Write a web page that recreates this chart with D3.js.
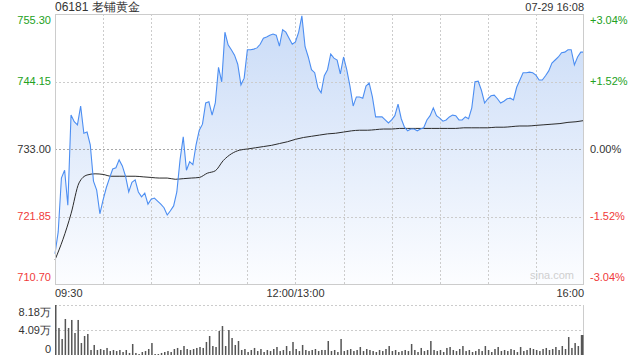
<!DOCTYPE html>
<html>
<head>
<meta charset="utf-8">
<script src="https://cdn.jsdelivr.net/npm/d3@7"></script>
<style>
  body { margin: 0; background: #fff; }
  text { font-family: "Liberation Sans", Arial, sans-serif; }
</style>
</head>
<body>
<div id="chart"></div>
<script>
// --- data ---
const title = "06181 老铺黄金";
const stamp = "07-29 16:08";
const prevClose = 733.00;

// price every 2 minutes of the trading session (330 min, lunch removed)
const priceStep = 2;
const prices = [
  715.7, 719.3, 728.2, 729.5, 723.7, 738.6, 737.5, 737.0, 740.1, 735.6,
  735.8, 733.7, 727.7, 726.2, 722.3, 724.6, 726.6, 728.2, 729.7, 729.9,
  731.2, 730.2, 728.5, 725.9, 727.5, 727.9, 725.9, 725.1, 725.7, 723.9,
  724.7, 724.9, 724.4, 723.9, 723.3, 722.1, 722.8, 723.6, 725.9, 731.2,
  735.0, 729.5, 730.9, 730.4, 733.7, 736.1, 737.1, 740.6, 740.8, 738.6,
  740.6, 746.5, 744.1, 752.3, 750.2, 749.4, 748.5, 747.0, 743.6, 744.7,
  749.4, 749.4, 749.5, 749.7, 750.3, 751.3, 751.5, 751.8, 752.0, 751.8,
  750.0, 752.7, 752.3, 751.3, 750.3, 750.7, 752.3, 755.0, 749.9, 748.2,
  746.1, 745.6, 743.1, 742.3, 745.1, 746.1, 748.7, 748.0, 747.7, 745.4,
  748.2, 746.1, 743.4, 740.1, 741.6, 741.6, 741.4, 743.4, 743.9, 741.6,
  738.3, 738.3, 738.3, 737.8, 737.3, 737.8, 738.5, 740.4, 738.0, 736.6,
  736.0, 736.3, 736.3, 736.0, 736.3, 736.5, 737.8, 738.5, 739.8, 738.5,
  738.1, 737.6, 737.8, 738.3, 738.6, 738.5, 737.8, 737.8, 738.3, 738.0,
  739.8, 744.1, 744.2, 742.7, 740.6, 741.3, 741.8, 741.9, 741.3, 740.6,
  740.9, 741.3, 741.4, 741.1, 743.2, 744.4, 745.6, 745.6, 745.7, 745.6,
  745.2, 744.4, 744.4, 745.1, 745.9, 747.2, 747.7, 748.2, 748.9, 749.0,
  749.4, 749.4, 746.9, 748.2, 749.0, 749.0
];

// average price every 5 minutes
const avgStep = 5;
const avgPrices = [
  714.7, 718.1, 722.3, 727.4, 728.7, 728.9, 728.8, 728.5, 728.5, 728.5,
  728.5, 728.4, 728.3, 728.2, 728.2, 728.0, 728.1, 728.2, 728.3, 729.0,
  729.4, 731.1, 732.2, 732.8, 733.0, 733.2, 733.4, 733.6, 733.9, 734.2,
  734.6, 734.9, 735.1, 735.3, 735.5, 735.6, 735.8, 736.0, 736.1, 736.1,
  736.2, 736.3, 736.3, 736.4, 736.4, 736.4, 736.4, 736.4, 736.4, 736.4,
  736.4, 736.5, 736.5, 736.5, 736.5, 736.6, 736.6, 736.7, 736.8, 736.8,
  736.9, 737.0, 737.1, 737.2, 737.4, 737.5, 737.7
];

// volume (万 shares) every 2 minutes
const volStep = 2;
const volumes = [
  8.18, 4.42, 2.62, 5.89, 4.42, 5.73, 3.60, 5.73, 1.96, 3.11,
  3.44, 0.82, 1.64, 0.82, 0.98, 0.82, 1.15, 0.65, 0.82, 0.65,
  0.82, 0.49, 0.82, 0.33, 1.80, 0.33, 0.16, 0.49, 0.65, 0.98,
  1.96, 0.16, 0.16, 0.33, 0.49, 0.65, 0.49, 0.98, 1.15, 0.82,
  1.47, 0.98, 0.82, 0.98, 1.15, 1.31, 1.15, 2.13, 3.11, 1.47,
  1.31, 3.93, 4.74, 1.47, 4.09, 2.78, 1.64, 2.29, 0.82, 0.98,
  0.49, 0.82, 1.15, 0.65, 0.98, 0.49, 0.82, 0.65, 0.98, 1.31,
  0.65, 0.82, 1.47, 0.65, 2.13, 0.98, 0.65, 1.64, 0.82, 0.65,
  0.82, 0.98, 0.65, 0.82, 0.82, 2.29, 0.65, 0.82, 0.49, 2.62,
  0.65, 0.82, 0.98, 0.65, 0.82, 1.31, 0.65, 0.98, 0.82, 0.65,
  0.49, 0.82, 0.65, 0.98, 1.47, 0.65, 0.82, 0.49, 0.65, 0.82,
  0.65, 1.80, 0.82, 0.49, 1.15, 0.65, 0.82, 2.29, 0.82, 0.65,
  0.82, 0.49, 1.15, 1.31, 0.82, 0.65, 0.98, 1.47, 0.65, 0.82,
  0.49, 0.65, 0.98, 0.65, 1.47, 0.82, 0.49, 0.98, 1.31, 0.65,
  0.82, 0.65, 0.98, 0.82, 0.49, 1.31, 0.65, 0.82, 1.15, 0.98,
  0.82, 0.65, 0.98, 1.15, 0.82, 0.98, 1.31, 0.82, 1.47, 0.98,
  2.94, 1.15, 1.96, 1.47, 3.27, 3.27
];

const priceTicks = [755.30, 744.15, 733.00, 721.85, 710.70];
const pctLabels = ["+3.04%", "+1.52%", "0.00%", "-1.52%", "-3.04%"];
const volTicks = [8.18, 4.09, 0];
const volLabels = ["8.18万", "4.09万", "0"];
const timeTicks = [0, 150, 330];
const timeLabels = ["09:30", "12:00/13:00", "16:00"];

// --- layout ---
const W = 640, H = 360;
const pL = 55, pR = 584, pT = 14, pB = 284;
const vTop = 305, vBot = 355;
const up = "#22a122", down = "#f03a3a", ink = "#333";

const svg = d3.select("#chart").append("svg")
  .attr("width", W).attr("height", H);

const x = d3.scaleLinear().domain([0, 330]).range([pL, pR]);
const y = d3.scaleLinear().domain([710.70, 755.30]).range([pB, pT]);
const yv = d3.scaleLinear().domain([0, 8.18]).range([vBot, vTop]);

// gradient under the price line
const grad = svg.append("defs").append("linearGradient")
  .attr("id", "fill").attr("gradientUnits", "userSpaceOnUse")
  .attr("x1", 0).attr("y1", pT).attr("x2", 0).attr("y2", pB);
grad.append("stop").attr("offset", 0).attr("stop-color", "#c9dbf7");
grad.append("stop").attr("offset", 1).attr("stop-color", "#fcfdff");

const area = d3.area()
  .x((d, i) => x(i * priceStep))
  .y0(pB)
  .y1(d => y(d));
svg.append("path").datum(prices)
  .attr("d", area).attr("fill", "url(#fill)");

// grid: horizontal
svg.selectAll(".hgrid").data(priceTicks.slice(1, 4)).join("line")
  .attr("x1", pL).attr("x2", pR)
  .attr("y1", d => Math.round(y(d)) + 0.5).attr("y2", d => Math.round(y(d)) + 0.5)
  .attr("stroke", d => d === prevClose ? "#a8a8a8" : "#cccccc")
  .attr("stroke-dasharray", "2,2");

// grid: vertical every 30 min
svg.selectAll(".vgrid").data(d3.range(30, 330, 30)).join("line")
  .attr("x1", d => Math.round(x(d)) + 0.5).attr("x2", d => Math.round(x(d)) + 0.5)
  .attr("y1", pT).attr("y2", pB)
  .attr("stroke", "#cccccc").attr("stroke-dasharray", "2,2");

// average line
svg.append("path").datum(avgPrices)
  .attr("d", d3.line().x((d, i) => x(i * avgStep)).y(d => y(d)).curve(d3.curveMonotoneX))
  .attr("fill", "none").attr("stroke", "#2b2b2b").attr("stroke-width", 1);

// price line
svg.append("path").datum(prices)
  .attr("d", d3.line().x((d, i) => x(i * priceStep)).y(d => y(d)))
  .attr("fill", "none").attr("stroke", "#4c8ef2").attr("stroke-width", 1.1);

// frame
svg.append("rect")
  .attr("x", pL + 0.5).attr("y", pT + 0.5)
  .attr("width", pR - pL - 1).attr("height", pB - pT)
  .attr("fill", "none").attr("stroke", "#cccccc");

// left price labels
const pColor = d => d > prevClose ? up : d < prevClose ? down : ink;
const labelY = (v, i, n) => i === 0 ? y(v) + 6 : i === n - 1 ? y(v) - 7 : y(v);
svg.selectAll(".pl").data(priceTicks).join("text")
  .attr("x", pL - 4).attr("y", (d, i) => labelY(d, i, priceTicks.length))
  .attr("dy", "0.35em").attr("text-anchor", "end")
  .attr("font-size", 11).attr("fill", pColor)
  .text(d => d.toFixed(2));

// right percent labels
svg.selectAll(".pr").data(priceTicks).join("text")
  .attr("x", pR + 6).attr("y", (d, i) => labelY(d, i, priceTicks.length))
  .attr("dy", "0.35em")
  .attr("font-size", 11).attr("fill", pColor)
  .text((d, i) => pctLabels[i]);

// time labels
svg.selectAll(".tl").data(timeTicks).join("text")
  .attr("x", d => x(d)).attr("y", pB + 9)
  .attr("dy", "0.35em")
  .attr("text-anchor", (d, i) => i === 0 ? "start" : i === timeTicks.length - 1 ? "end" : "middle")
  .attr("font-size", 11).attr("fill", ink)
  .text((d, i) => timeLabels[i]);

// header
svg.append("text").attr("x", pL).attr("y", 11)
  .attr("font-size", 12).attr("fill", ink).text(title);
svg.append("text").attr("x", pR).attr("y", 11)
  .attr("text-anchor", "end").attr("font-size", 11).attr("fill", ink).text(stamp);

// watermark
svg.append("text").attr("x", pR - 10).attr("y", pB - 5)
  .attr("text-anchor", "end").attr("font-size", 11).attr("fill", "#cfcfcf")
  .text("sina.com");

// --- volume panel ---
svg.selectAll(".vg").data(volTicks.slice(0, 2)).join("line")
  .attr("x1", pL).attr("x2", pR)
  .attr("y1", d => yv(d) + 0.5).attr("y2", d => yv(d) + 0.5)
  .attr("stroke", "#cccccc").attr("stroke-dasharray", "2,2");
svg.append("line").attr("x1", pL + 0.5).attr("x2", pL + 0.5)
  .attr("y1", vTop).attr("y2", vBot).attr("stroke", "#cccccc");
svg.append("line").attr("x1", pR - 0.5).attr("x2", pR - 0.5)
  .attr("y1", vTop).attr("y2", vBot).attr("stroke", "#cccccc");

svg.selectAll(".vb").data(volumes).join("rect")
  .attr("x", (d, i) => Math.min(x(i * volStep), pR - 2))
  .attr("y", d => yv(d))
  .attr("width", 1.5)
  .attr("height", d => vBot - yv(d))
  .attr("fill", "#555");

svg.selectAll(".vl").data(volTicks).join("text")
  .attr("x", pL - 4)
  .attr("y", (d, i) => i === 0 ? yv(d) + 7 : i === volTicks.length - 1 ? yv(d) - 6 : yv(d))
  .attr("dy", "0.35em").attr("text-anchor", "end")
  .attr("font-size", 11).attr("fill", ink)
  .text((d, i) => volLabels[i]);
</script>
</body>
</html>
